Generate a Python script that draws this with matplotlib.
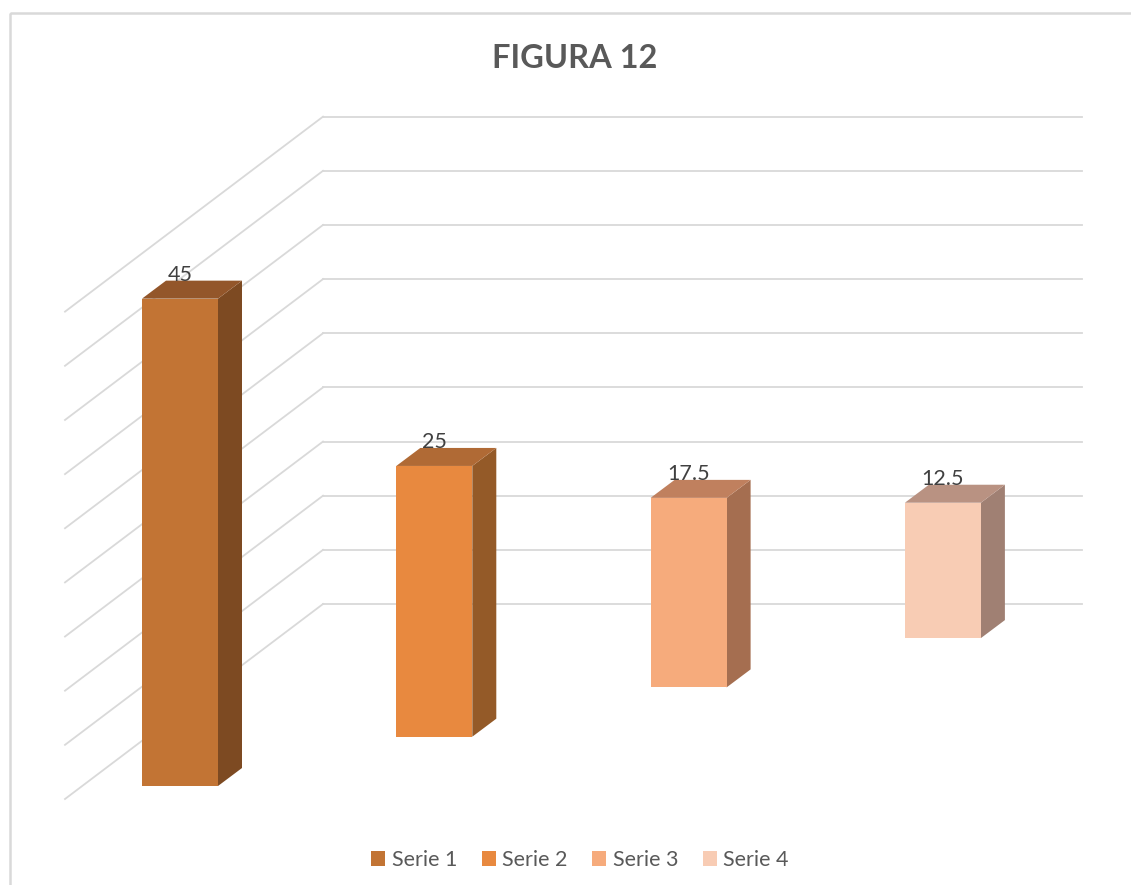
import matplotlib.pyplot as plt
import matplotlib.patches as mpatches
from matplotlib.patches import Polygon, Rectangle

# data
series = ['Serie 1', 'Serie 2', 'Serie 3', 'Serie 4']
values = [45, 25, 17.5, 12.5]
front_colors = ['#C27434', '#E8893F', '#F6AB7C', '#F8CCB4']
side_colors = ['#7D4A22', '#945A28', '#A56E50', '#A08073']
top_colors = ['#93562A', '#B06A35', '#C0805E', '#B99282']
axis_max = 45
axis_step = 5
title = 'FIGURA 12'

# layout of the oblique "3D" projection, in pixels
W, H = 1131, 885
PX_PER_UNIT = 10.83
WALL_X, WALL_BASE_Y, WALL_RIGHT = 323, 604, 1082
WALL_DX, WALL_DY = 258, 195          # front edge of the side wall
BAR_X0, BAR_Y0 = 142, 786
BAR_STEP_X, BAR_STEP_Y = 254.3, -49.3
BAR_W = 76
DEPTH_DX, DEPTH_DY = 24, 18
GRID = '#D9D9D9'
TEXT = '#595959'

plt.rcParams['font.family'] = ['Lato', 'DejaVu Sans']


def proj(i, v, side=0.0, back=0.0):
    """Screen point for bar i at value v (side: 0..1 across, back: 0..1 deep)."""
    x = BAR_X0 + BAR_STEP_X * i + BAR_W * side + DEPTH_DX * back
    y = BAR_Y0 + BAR_STEP_Y * i - PX_PER_UNIT * v - DEPTH_DY * back
    return (x, y)


fig = plt.figure(figsize=(W / 100, H / 100), dpi=100)
ax = fig.add_axes([0, 0, 1, 1])
ax.set_xlim(0, W)
ax.set_ylim(H, 0)
ax.axis('off')

# chart border
ax.add_patch(Rectangle((10, 13), W + 20, H + 20, fill=False,
                       edgecolor=GRID, linewidth=1.8))

# walls gridlines
v = 0
while v <= axis_max + 1e-9:
    y = WALL_BASE_Y - v * PX_PER_UNIT
    ax.plot([WALL_X, WALL_RIGHT], [y, y], color=GRID, lw=1.3, zorder=1)
    ax.plot([WALL_X - WALL_DX, WALL_X], [y + WALL_DY, y], color=GRID, lw=1.3, zorder=1)
    v += axis_step

# bars
for i, val in enumerate(values):
    front = [proj(i, 0), proj(i, 0, 1), proj(i, val, 1), proj(i, val)]
    side = [proj(i, 0, 1), proj(i, 0, 1, 1), proj(i, val, 1, 1), proj(i, val, 1)]
    top = [proj(i, val), proj(i, val, 1), proj(i, val, 1, 1), proj(i, val, 0, 1)]
    ax.add_patch(Polygon(side, closed=True, facecolor=side_colors[i], edgecolor='none', zorder=3))
    ax.add_patch(Polygon(top, closed=True, facecolor=top_colors[i], edgecolor='none', zorder=3))
    ax.add_patch(Polygon(front, closed=True, facecolor=front_colors[i], edgecolor='none', zorder=3))
    lx = proj(i, val, 0.5)[0]
    ly = proj(i, val, 0, 1)[1]
    ax.text(lx, ly, f'{val:g}', ha='center', va='baseline', fontsize=15.5,
            color='#404040', zorder=4)

# title
ax.text(575, 59, title, ha='center', va='center', fontsize=23.5,
        fontweight='bold', color=TEXT)

# legend
handles = [mpatches.Patch(facecolor=c, edgecolor='none', label=s)
           for s, c in zip(series, front_colors)]
ax.legend(handles=handles, loc='center', bbox_to_anchor=(580 / W, 1 - 860 / H),
          ncol=4, frameon=False, fontsize=15.5, labelcolor=TEXT,
          handlelength=0.65, handleheight=0.65, handletextpad=0.3,
          columnspacing=1.15)

fig.savefig('out.png', dpi=100)
